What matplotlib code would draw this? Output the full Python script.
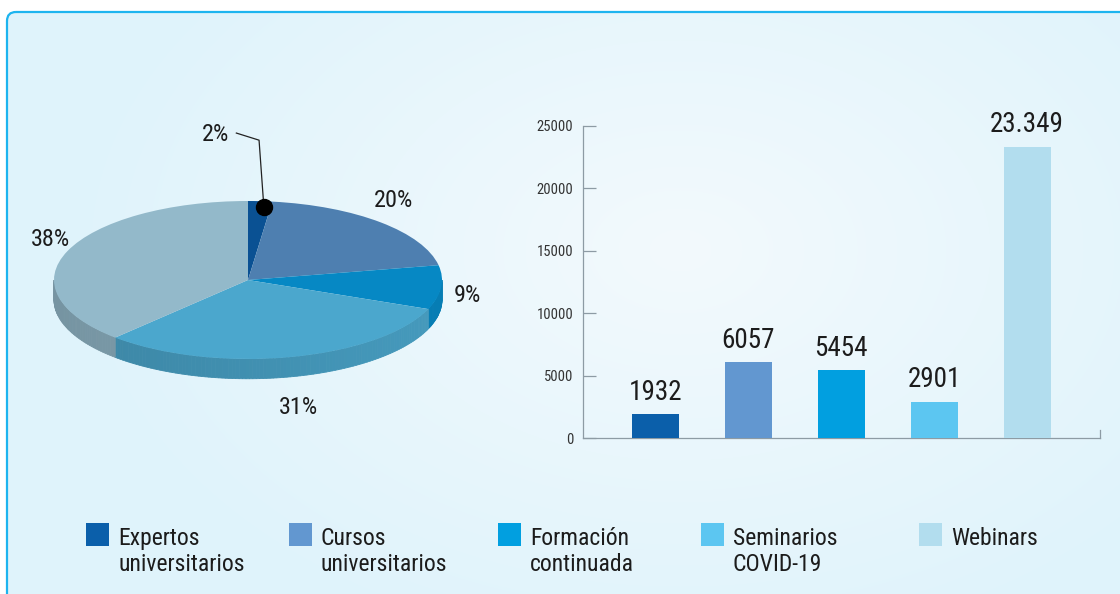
import numpy as np
import matplotlib.pyplot as plt
from matplotlib.patches import FancyBboxPatch, Rectangle, Polygon
from matplotlib.colors import to_rgb

plt.rcParams['font.family'] = ['Roboto Condensed', 'Liberation Sans Narrow', 'Roboto', 'DejaVu Sans']
plt.rcParams['font.stretch'] = 'condensed'

# data
categories = ["Expertos\nuniversitarios", "Cursos\nuniversitarios", "Formación\ncontinuada",
              "Seminarios\nCOVID-19", "Webinars"]
pie_pct = [2, 20, 9, 31, 38]
pie_labels = ["2%", "20%", "9%", "31%", "38%"]
bar_values = [1932, 6057, 5454, 2901, 23349]
bar_labels = ["1932", "6057", "5454", "2901", "23.349"]
y_ticks = [0, 5000, 10000, 15000, 20000, 25000]

pie_colors = ["#0a5193", "#4e7fb0", "#0688c4", "#4ba7cd", "#93b9ca"]
bar_colors = ["#0b5faa", "#6297d0", "#019fe0", "#5cc6f1", "#b2ddee"]
text_col = "#1c1c1c"
axis_col = "#8d9ba4"

W, H = 1120, 594
fig = plt.figure(figsize=(W / 100, H / 100), dpi=100)
fig.patch.set_facecolor("white")

# background panel with soft radial glow and cyan border
bg = fig.add_axes([0, 0, 1, 1], zorder=0)
bg.set_xlim(0, W)
bg.set_ylim(H, 0)
bg.axis("off")
yy, xx = np.mgrid[0:H, 0:W]
t = np.clip(np.hypot((xx - 680) / 620, (yy - 250) / 420), 0, 1)[..., None]
img = np.array(to_rgb("#f3fafd")) * (1 - t) + np.array(to_rgb("#dff3fb")) * t
im = bg.imshow(img, extent=(0, W, H, 0), aspect="auto", zorder=0)
box = FancyBboxPatch((7, 12), W + 30, H + 30, boxstyle="round,pad=0,rounding_size=9",
                     fc="none", ec="#1db4ef", lw=1.6, zorder=1)
bg.add_patch(box)
im.set_clip_path(box)

# pie (tilted, with side wall)
cx, cy, rx, ry = 248, 280, 194, 79
pax = fig.add_axes([0, (H - 430) / H, 500 / W, 330 / H], zorder=2)
wedges, _ = pax.pie(pie_pct, colors=pie_colors, startangle=90, counterclock=False,
                    wedgeprops=dict(linewidth=0, zorder=3))
pax.set_aspect("auto")
pax.set_xlim(-cx / rx, (500 - cx) / rx)
pax.set_ylim(-(430 - cy) / ry, (cy - 100) / ry)
pax.axis("off")

depth = 0.25
for w, col in zip(wedges, pie_colors):
    base = np.array(to_rgb(col))
    for lo, hi in [(-180, 0), (180, 360), (-540, -360)]:
        a0, a1 = max(w.theta1, lo), min(w.theta2, hi)
        if a1 <= a0:
            continue
        ts = np.radians(np.linspace(a0, a1, max(int(a1 - a0), 2)))
        for t0, t1 in zip(ts[:-1], ts[1:]):
            shade = base * (0.80 + 0.12 * (1 + np.cos(t0)) / 2)
            pts = [(np.cos(t0), np.sin(t0)), (np.cos(t1), np.sin(t1)),
                   (np.cos(t1), np.sin(t1) - depth), (np.cos(t0), np.sin(t0) - depth)]
            pax.add_patch(Polygon(pts, closed=True, fc=shade, ec=shade, lw=0.6, zorder=2))

# pie labels
label_pos = [(-0.165, 1.84), (0.75, 1.01), (1.13, -0.20), (0.26, -1.62), (-1.02, 0.51)]
for (lx, ly), lbl in zip(label_pos, pie_labels):
    pax.text(lx, ly, lbl, ha="center", va="center", fontsize=17.5, color=text_col)

# leader line + dot for the small slice
w0 = wedges[0]
ang = np.radians(w0.theta1 + 0.3 * (w0.theta2 - w0.theta1))
dx, dy = 0.93 * np.cos(ang), 0.93 * np.sin(ang)
pax.plot([-0.06, 0.057, dx], [1.86, 1.77, dy], color="#222222", lw=0.9, zorder=5)
pax.plot(dx, dy, "o", color="black", ms=11.5, zorder=6)

# bar chart
bax = fig.add_axes([583 / W, (H - 438) / H, 517 / W, 312 / H], zorder=2)
bax.patch.set_alpha(0)
x = np.arange(len(bar_values))
bax.bar(x, bar_values, width=0.505, color=bar_colors, zorder=3)
for xi, v, lbl in zip(x, bar_values, bar_labels):
    bax.annotate(lbl, (xi, v), xytext=(0, 6), textcoords="offset points",
                 ha="center", va="bottom", fontsize=19.5, color=text_col)
bax.set_xlim(-0.78, 4.785)
bax.set_ylim(0, 25000)
bax.set_yticks(y_ticks)
bax.set_xticks([])
bax.tick_params(axis="y", direction="in", length=9.5, width=0.9, color=axis_col,
                labelsize=10.5, labelcolor="#333333", pad=7)
bax.spines["top"].set_visible(False)
bax.spines["right"].set_bounds(0, 640)
for s in ["left", "bottom", "right"]:
    bax.spines[s].set_color(axis_col)
    bax.spines[s].set_linewidth(0.9)

# legend
leg_x = [86, 289, 498, 701, 919]
for lx, name, col in zip(leg_x, categories, bar_colors):
    bg.add_patch(Rectangle((lx, 523), 23, 23, fc=col, ec="none", zorder=2))
    bg.text(lx + 32, 527, name, ha="left", va="top", fontsize=17,
            linespacing=1.15, color=text_col, zorder=2)

fig.savefig("out.png", dpi=100)
